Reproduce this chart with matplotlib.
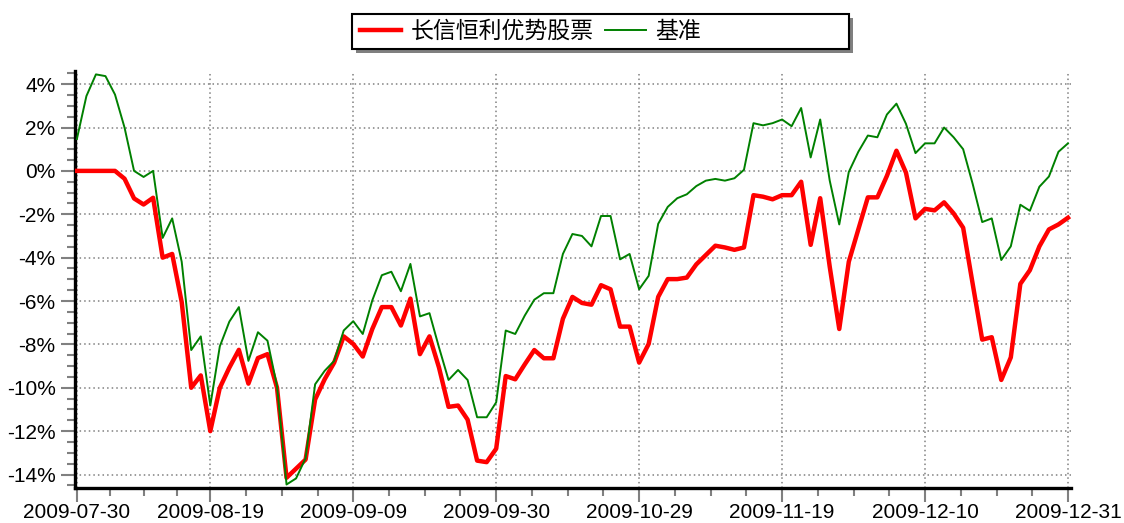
import numpy as np
import matplotlib
matplotlib.use('Agg')
import matplotlib.pyplot as plt
from matplotlib.patches import Rectangle
from matplotlib.ticker import FixedLocator, FuncFormatter

plt.rcParams['font.family'] = ['Liberation Sans', 'Noto Sans CJK SC', 'DejaVu Sans']
plt.rcParams['axes.unicode_minus'] = False

# cumulative return (%) per trading day, 2009-07-30 .. 2009-12-31
fund = [0, 0, 0, 0, 0,
        -0.36, -1.27, -1.55, -1.24, -4.0, -3.83, -6.05, -10.0, -9.43, -12.0, -10.0, -9.07, -8.25, -9.81, -8.63, -8.45, -10.0,
        -14.15, -13.73, -13.31, -10.54, -9.61, -8.84, -7.63, -7.98, -8.56, -7.29, -6.28, -6.28, -7.13, -5.89, -8.45, -7.63, -9.07, -10.88, -10.82, -11.47, -13.36,
        -13.43, -12.81, -9.46, -9.61, -8.92, -8.26, -8.64, -8.64, -6.82, -5.81, -6.09, -6.17, -5.27, -5.46, -7.18, -7.18, -8.84, -7.98, -5.81, -4.99, -4.99,
        -4.92, -4.31, -3.88, -3.45, -3.53, -3.64, -3.53, -1.12, -1.19, -1.31, -1.12, -1.12, -0.5, -3.41, -1.26, -4.42, -7.29, -4.19, -2.7, -1.22, -1.22,
        -0.23, 0.93, -0.08, -2.19, -1.75, -1.82, -1.45, -1.96, -2.62, -5.21, -7.78, -7.67, -9.64, -8.6, -5.21, -4.58, -3.48, -2.7, -2.47, -2.16]

bench = [1.47, 3.45, 4.45, 4.37, 3.52, 2.0, 0.0, -0.28, 0.0, -3.09, -2.19, -4.19, -8.26, -7.63, -10.82, -8.09, -6.95, -6.28, -8.76, -7.44, -7.83, -9.92,
         -14.46, -14.18, -13.25, -9.84, -9.22, -8.76, -7.36, -6.93, -7.52, -5.97, -4.81, -4.65, -5.55, -4.29, -6.71, -6.56, -8.14, -9.64, -9.18, -9.64, -11.36,
         -11.36, -10.67, -7.36, -7.52, -6.67, -5.94, -5.64, -5.64, -3.83, -2.91, -3.0, -3.48, -2.08, -2.08, -4.08, -3.83, -5.46, -4.84, -2.44, -1.66, -1.26,
         -1.08, -0.7, -0.45, -0.37, -0.45, -0.34, 0.05, 2.2, 2.1, 2.2, 2.37, 2.06, 2.9, 0.62, 2.37, -0.45, -2.47, -0.05, 0.88, 1.63, 1.55,
         2.6, 3.1, 2.17, 0.82, 1.27, 1.27, 2.0, 1.55, 1.0, -0.6, -2.36, -2.19, -4.11, -3.48, -1.56, -1.84, -0.73, -0.26, 0.88, 1.27]

date_labels = ['2009-07-30', '2009-08-19', '2009-09-09', '2009-09-30',
               '2009-10-29', '2009-11-19', '2009-12-10', '2009-12-31']
date_index = [0, 14, 29, 44, 59, 74, 89, 104]  # trading-day index of each label

names = ['长信恒利优势股票', '基准']

x = np.arange(len(fund))

W, H = 1124, 523
fig = plt.figure(figsize=(W / 100, H / 100), dpi=100)
ax = fig.add_axes([0.0667, 0.067, 0.886, 0.797])

ax.plot(x, fund, color='#ff0000', lw=3.2, label=names[0], zorder=3)
ax.plot(x, bench, color='#008000', lw=1.4, label=names[1], zorder=3)

ax.set_xlim(-0.2, 104.3)
ax.set_ylim(-14.62, 4.6)

# ticks
ax.xaxis.set_major_locator(FixedLocator(date_index))
ax.set_xticklabels(date_labels)
minor_x = []
for a, b in zip(date_index[:-1], date_index[1:]):
  minor_x += list(np.linspace(a, b, 5)[1:-1])
ax.xaxis.set_minor_locator(FixedLocator(minor_x))

ax.yaxis.set_major_locator(FixedLocator(np.arange(-14, 5, 2)))
ax.yaxis.set_minor_locator(FixedLocator(np.arange(-14.5, 4.6, 0.5)))
ax.yaxis.set_major_formatter(FuncFormatter(lambda v, p: f'{v:.0f}%'))

ax.tick_params(which='major', length=10, width=1.5, color='#808080', labelsize=15, labelcolor='black')
ax.tick_params(which='minor', length=6, width=1.5, color='#808080')
ax.tick_params(axis='x', which='major', pad=1)
ax.tick_params(axis='y', which='major', pad=4)

ax.grid(True, which='major', color='#808080', linestyle=(0, (1, 2)), linewidth=1.1)

for s in ['top', 'right']:
  ax.spines[s].set_visible(False)
for s in ['left', 'bottom']:
  ax.spines[s].set_linewidth(2.4)
  ax.spines[s].set_color('black')

# legend box with a flat grey drop shadow (box is wider than its entries)
bx0, by0, bx1, by1 = 352, 14, 849, 49
sh = 3.5
fig.patches.append(Rectangle(((bx0 + sh) / W, 1 - (by1 + sh) / H), (bx1 - bx0) / W, (by1 - by0) / H,
                             transform=fig.transFigure, facecolor='#808080', edgecolor='none', zorder=1))
fig.patches.append(Rectangle((bx0 / W, 1 - by1 / H), (bx1 - bx0) / W, (by1 - by0) / H,
                             transform=fig.transFigure, facecolor='white', edgecolor='black', lw=1.5, zorder=2))

leg = fig.legend(loc='center left', bbox_to_anchor=(360 / W, 1 - 31.5 / H), ncol=2,
                 prop={'family': ['Noto Sans CJK SC'], 'size': 16.5},
                 handlelength=1.8, handletextpad=0.4, columnspacing=0.5,
                 borderpad=0, borderaxespad=0, frameon=False)
leg.set_zorder(3)

plt.savefig('out.png', dpi=100)
